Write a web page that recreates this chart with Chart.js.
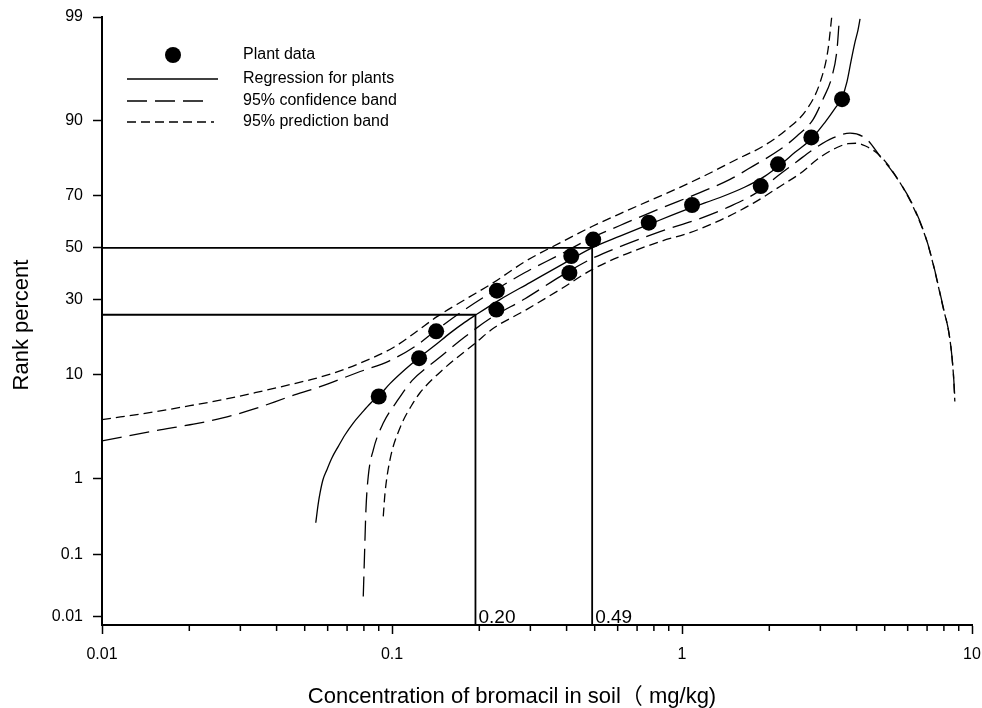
<!DOCTYPE html>
<html>
<head>
<meta charset="utf-8">
<script src="https://cdn.jsdelivr.net/npm/chart.js"></script>
<style>
  html, body { margin: 0; padding: 0; background: #fff; }
  canvas { display: block; }
</style>
</head>
<body>
<canvas id="chart" width="982" height="708"></canvas>
<script>
// axis ticks
const xTickValues = [0.01, 0.1, 1, 10];
const xTickLabels = ['0.01', '0.1', '1', '10'];
const yTickValues = [0.01, 0.1, 1, 10, 30, 50, 70, 90, 99];
const yTickLabels = ['0.01', '0.1', '1', '10', '30', '50', '70', '90', '99'];
const yMin = 0.0072;
const yMax = 99;

// plant data (concentration mg/kg, rank percent)
const plantConc = [0.090, 0.124, 0.142, 0.229, 0.230, 0.409, 0.415, 0.494, 0.768, 1.083, 1.868, 2.143, 2.792, 3.563];
const plantRank = [6.7, 13.3, 20.0, 26.7, 33.3, 40.0, 46.7, 53.3, 60.0, 66.7, 73.3, 80.0, 86.7, 93.3];

// regression for plants
const regX = [0.0546, 0.0556, 0.0565, 0.0578, 0.0596, 0.0621, 0.0653, 0.0689, 0.0735, 0.0788, 0.0840, 0.0902, 0.0984, 0.1109, 0.1239, 0.1407, 0.1585, 0.1785, 0.1949, 0.2357, 0.2991, 0.3796, 0.4894, 0.611, 0.776, 1.083, 1.352, 1.649, 1.933, 2.177, 2.453, 2.785, 3.112, 3.370, 3.563, 3.707, 3.827, 3.951, 4.046, 4.111];
const regY = [0.28, 0.48, 0.68, 0.97, 1.26, 1.72, 2.27, 2.98, 3.87, 4.83, 5.81, 6.81, 8.55, 11.0, 13.4, 16.3, 19.5, 22.7, 25.0, 30.1, 36.3, 42.9, 50.0, 54.7, 59.5, 65.8, 69.4, 73.0, 76.5, 79.8, 83.2, 86.3, 89.7, 92.0, 93.5, 95.3, 97.0, 98.1, 98.6, 98.95];

// 95% confidence band
const confUpX = [0.01, 0.0155, 0.0201, 0.0261, 0.0337, 0.0445, 0.0565, 0.0757, 0.0984, 0.120, 0.1429, 0.1785, 0.2230, 0.2875, 0.3796, 0.4894, 0.611, 0.840, 1.153, 1.464, 1.757, 2.177, 2.492, 2.830, 3.063, 3.290, 3.423, 3.478];
const confUpY = [2.59, 3.29, 3.73, 4.32, 5.25, 6.71, 8.08, 10.4, 12.8, 16.0, 20.5, 26.7, 33.0, 40.2, 47.3, 54.1, 58.9, 65.4, 71.1, 75.5, 79.5, 83.9, 87.0, 90.2, 93.3, 95.8, 97.7, 98.8];
const confLoX = [0.0796, 0.0803, 0.0813, 0.0828, 0.0862, 0.0933, 0.1038, 0.1172, 0.1429, 0.1785, 0.2230, 0.2875, 0.3796, 0.4894, 0.611, 0.840, 1.153, 1.464, 1.814, 2.126, 2.492, 2.830, 3.316, 3.796, 4.335, 4.817, 5.353, 6.276, 7.053, 7.943, 8.398, 8.622, 8.740];
const confLoY = [0.022, 0.083, 0.41, 1.06, 2.09, 3.87, 6.05, 9.03, 13.0, 18.5, 24.4, 30.4, 38.6, 45.7, 50.5, 56.5, 61.6, 66.2, 71.2, 76.4, 80.8, 83.9, 86.6, 87.6, 86.3, 82.2, 77.5, 66.3, 51.3, 27.8, 17.7, 10.4, 6.09];

// 95% prediction band
const predUpX = [0.01, 0.0155, 0.0201, 0.0261, 0.0337, 0.0445, 0.0588, 0.0757, 0.1008, 0.120, 0.1429, 0.1785, 0.223, 0.2875, 0.3796, 0.4894, 0.636, 0.984, 1.220, 1.547, 1.903, 2.302, 2.698, 2.991, 3.187, 3.283];
const predUpY = [4.17, 4.96, 5.58, 6.30, 7.21, 8.40, 9.87, 12.0, 15.7, 19.6, 24.4, 30.1, 36.2, 44.5, 52.0, 58.5, 64.3, 72.9, 77.0, 81.4, 84.7, 88.4, 91.9, 95.2, 97.7, 99.0];
const predLoX = [0.0933, 0.0946, 0.0984, 0.1066, 0.1184, 0.1249, 0.1499, 0.1964, 0.2230, 0.2875, 0.3796, 0.4894, 0.611, 0.840, 1.066, 1.352, 1.757, 2.177, 2.553, 2.991, 3.423, 3.737, 4.013, 4.311, 4.630, 5.012, 5.427, 6.262, 7.053, 7.943, 8.398, 8.622, 8.726];
const predLoY = [0.34, 0.67, 1.63, 3.49, 5.93, 7.21, 11.0, 17.2, 20.8, 26.4, 33.7, 41.3, 46.5, 52.5, 56.1, 60.9, 67.3, 73.2, 77.3, 81.9, 84.4, 85.3, 85.4, 84.7, 83.4, 80.9, 76.9, 66.1, 51.1, 27.5, 17.6, 10.3, 6.07];

// EC25 / EC50 read-off lines
const refConc = [0.194, 0.49];
const refRank = [25, 50];
const refLabels = ['0.20', '0.49'];

const FONT = '"Liberation Sans", Arial, "Noto Sans CJK SC", sans-serif';
const CONF_DASH = [20, 8];
const PRED_DASH = [9, 5];

function toPoints(xs, ys) {
  return xs.map((x, i) => ({ x: x, y: ys[i] }));
}

// inverse normal CDF (Acklam)
function probit(p) {
  const a = [-3.969683028665376e+01, 2.209460984245205e+02, -2.759285104469687e+02, 1.383577518672690e+02, -3.066479806614716e+01, 2.506628277459239e+00];
  const b = [-5.447609879822406e+01, 1.615858368580409e+02, -1.556989798598866e+02, 6.680131188771972e+01, -1.328068155288572e+01];
  const c = [-7.784894002430293e-03, -3.223964580411365e-01, -2.400758277161838e+00, -2.549732539343734e+00, 4.374664141464968e+00, 2.938163982698783e+00];
  const d = [7.784695709041462e-03, 3.224671290700398e-01, 2.445134137142996e+00, 3.754408661907416e+00];
  const pl = 0.02425;
  let q, r;
  if (p < pl) {
    q = Math.sqrt(-2 * Math.log(p));
    return (((((c[0] * q + c[1]) * q + c[2]) * q + c[3]) * q + c[4]) * q + c[5]) / ((((d[0] * q + d[1]) * q + d[2]) * q + d[3]) * q + 1);
  }
  if (p > 1 - pl) {
    q = Math.sqrt(-2 * Math.log(1 - p));
    return -(((((c[0] * q + c[1]) * q + c[2]) * q + c[3]) * q + c[4]) * q + c[5]) / ((((d[0] * q + d[1]) * q + d[2]) * q + d[3]) * q + 1);
  }
  q = p - 0.5;
  r = q * q;
  return (((((a[0] * r + a[1]) * r + a[2]) * r + a[3]) * r + a[4]) * r + a[5]) * q / (((((b[0] * r + b[1]) * r + b[2]) * r + b[3]) * r + b[4]) * r + 1);
}

// probability (probit) axis for rank percent
class ProbitScale extends Chart.Scale {
  static id = 'probit';
  static defaults = {};
  determineDataLimits() {
    this.min = this.options.min;
    this.max = this.options.max;
  }
  buildTicks() {
    return yTickValues.map(v => ({ value: v }));
  }
  configure() {
    super.configure();
    this._zMin = probit(this.min / 100);
    this._zMax = probit(this.max / 100);
  }
  getLabelForValue(v) {
    return String(v);
  }
  getPixelForValue(v) {
    const p = Math.min(Math.max(v / 100, 1e-12), 1 - 1e-12);
    return this.getPixelForDecimal((probit(p) - this._zMin) / (this._zMax - this._zMin));
  }
  getValueForPixel(px) {
    const dec = this.getDecimalForPixel(px);
    const z = this._zMin + dec * (this._zMax - this._zMin);
    let lo = 1e-12, hi = 1 - 1e-12;
    for (let i = 0; i < 60; i++) {
      const mid = (lo + hi) / 2;
      if (probit(mid) < z) lo = mid; else hi = mid;
    }
    return lo * 100;
  }
}
Chart.register(ProbitScale);

const overlay = {
  id: 'overlay',
  afterDraw(chart) {
    const ctx = chart.ctx;
    const area = chart.chartArea;
    const x = chart.scales.x;
    ctx.save();

    // minor ticks on the log axis
    ctx.strokeStyle = '#000';
    ctx.lineWidth = 1.5;
    x.ticks.forEach(t => {
      if (t.major) return;
      const px = x.getPixelForValue(t.value);
      ctx.beginPath();
      ctx.moveTo(px, area.bottom);
      ctx.lineTo(px, area.bottom + 6);
      ctx.stroke();
    });

    // read-off labels
    ctx.fillStyle = '#000';
    ctx.font = '19px ' + FONT;
    ctx.textAlign = 'left';
    ctx.textBaseline = 'alphabetic';
    refConc.forEach((c, i) => {
      ctx.fillText(refLabels[i], x.getPixelForValue(c) + 3, area.bottom - 2);
    });

    // legend
    const lx0 = 127, tx = 243;
    const rows = [55, 79, 101, 122];
    ctx.beginPath();
    ctx.arc(173, rows[0], 8, 0, Math.PI * 2);
    ctx.fill();
    ctx.lineWidth = 1.3;
    ctx.setLineDash([]);
    ctx.beginPath(); ctx.moveTo(lx0, rows[1]); ctx.lineTo(218, rows[1]); ctx.stroke();
    ctx.setLineDash(CONF_DASH);
    ctx.beginPath(); ctx.moveTo(lx0, rows[2]); ctx.lineTo(211, rows[2]); ctx.stroke();
    ctx.setLineDash(PRED_DASH);
    ctx.beginPath(); ctx.moveTo(lx0, rows[3]); ctx.lineTo(214, rows[3]); ctx.stroke();
    ctx.setLineDash([]);
    ctx.font = '16px ' + FONT;
    ctx.textBaseline = 'middle';
    ['Plant data', 'Regression for plants', '95% confidence band', '95% prediction band'].forEach((t, i) => {
      ctx.fillText(t, tx, rows[i]);
    });

    // axis titles
    ctx.font = '22px ' + FONT;
    ctx.textAlign = 'center';
    ctx.fillText('Concentration of bromacil in soil\uff08 mg/kg)', 512, 697);
    ctx.translate(22, 325);
    ctx.rotate(-Math.PI / 2);
    ctx.fillText('Rank percent', 0, 0);

    ctx.restore();
  }
};

function lineSet(label, pts, dash, width) {
  return {
    label: label,
    data: pts,
    showLine: true,
    borderColor: '#000',
    borderWidth: width,
    borderDash: dash,
    pointRadius: 0,
    fill: false,
    cubicInterpolationMode: 'monotone'
  };
}

const refSets = refConc.map((c, i) => ({
  label: 'ref' + i,
  data: [{ x: 0.01, y: refRank[i] }, { x: c, y: refRank[i] }, { x: c, y: yMin }],
  showLine: true,
  borderColor: '#000',
  borderWidth: 1.8,
  pointRadius: 0,
  tension: 0
}));

new Chart(document.getElementById('chart'), {
  type: 'scatter',
  data: {
    datasets: [
      ...refSets,
      lineSet('Regression for plants', toPoints(regX, regY), [], 1.3),
      lineSet('95% confidence band', toPoints(confUpX, confUpY), CONF_DASH, 1.3),
      lineSet('95% confidence band low', toPoints(confLoX, confLoY), CONF_DASH, 1.3),
      lineSet('95% prediction band', toPoints(predUpX, predUpY), PRED_DASH, 1.3),
      lineSet('95% prediction band low', toPoints(predLoX, predLoY), PRED_DASH, 1.3),
      {
        label: 'Plant data',
        data: toPoints(plantConc, plantRank),
        showLine: false,
        pointRadius: 8,
        pointBackgroundColor: '#000',
        pointBorderColor: '#000',
        pointBorderWidth: 0
      }
    ]
  },
  options: {
    responsive: false,
    animation: false,
    events: [],
    layout: { padding: { top: 17, right: 10, left: 0, bottom: 0 } },
    plugins: { legend: { display: false }, tooltip: { enabled: false } },
    scales: {
      x: {
        type: 'logarithmic',
        min: 0.01,
        max: 10,
        afterFit: s => {
          s.height = 83;
          s.paddingLeft = 0;
          s.paddingRight = 0;
        },
        afterBuildTicks: s => {
          const ticks = [];
          xTickValues.forEach((dec, i) => {
            if (i === xTickValues.length - 1) {
              ticks.push({ value: dec, major: true });
              return;
            }
            for (let m = 1; m <= 9; m++) ticks.push({ value: dec * m, major: m === 1 });
          });
          s.ticks = ticks;
        },
        ticks: {
          autoSkip: false,
          maxRotation: 0,
          minRotation: 0,
          padding: 11,
          color: '#000',
          font: { family: FONT, size: 16 },
          callback: function(v) {
            const i = xTickValues.findIndex(t => Math.abs(Math.log10(t / v)) < 1e-6);
            return i >= 0 ? xTickLabels[i] : '';
          }
        },
        grid: {
          drawOnChartArea: false,
          tickLength: 9,
          tickWidth: 1.5,
          tickColor: c => (c.tick && c.tick.major) ? '#000' : 'rgba(0,0,0,0)'
        },
        border: { display: true, color: '#000', width: 2 }
      },
      y: {
        type: 'probit',
        position: 'left',
        min: yMin,
        max: yMax,
        afterFit: s => {
          s.width = 102;
          s.paddingTop = 0;
          s.paddingBottom = 0;
        },
        ticks: {
          padding: 10,
          color: '#000',
          font: { family: FONT, size: 16 },
          callback: (v, i) => yTickLabels[i]
        },
        grid: {
          drawOnChartArea: false,
          tickLength: 9,
          tickWidth: 1.5,
          tickColor: '#000'
        },
        border: { display: true, color: '#000', width: 2 }
      }
    }
  },
  plugins: [overlay]
});
</script>
</body>
</html>
